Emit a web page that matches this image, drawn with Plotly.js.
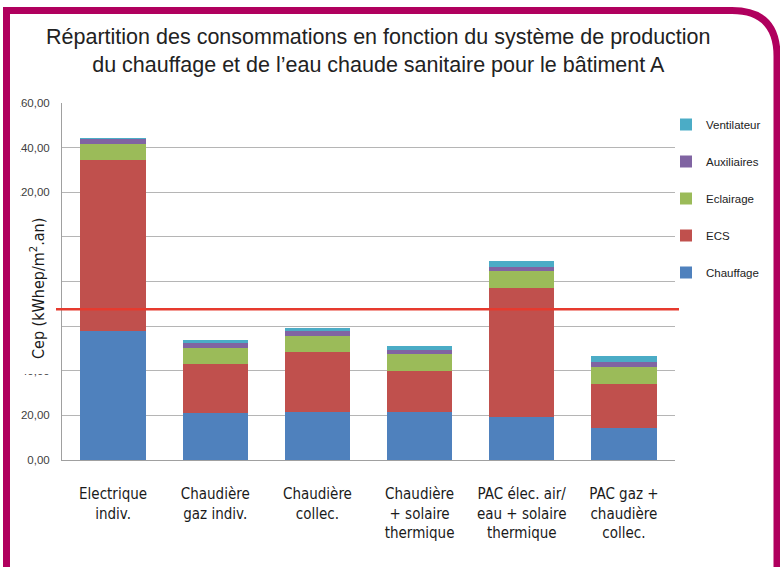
<!DOCTYPE html>
<html><head><meta charset="utf-8">
<script src="https://cdn.plot.ly/plotly-3.0.1.min.js"></script>
<style>html,body{margin:0;padding:0;background:#fff}#chart{width:780px;height:567px}</style>
</head><body><div id="chart"></div>
<script>
const categories = ["Electrique<br>indiv.", "Chaudière<br>gaz indiv.", "Chaudière<br>collec.", "Chaudière<br>+ solaire<br>thermique", "PAC élec. air/<br>eau + solaire<br>thermique", "PAC gaz +<br>chaudière<br>collec."];
const chauffage   = [58.0, 20.9, 21.4, 21.4, 19.1, 14.2];
const ecs         = [76.6, 22.0, 27.0, 18.7, 58.2, 20.0];
const eclairage   = [7.2, 7.5, 7.2, 7.3, 7.3, 7.5];
const auxiliaires = [2.2, 1.9, 2.1, 2.1, 2.1, 2.0];
const ventilateur = [0.2, 1.5, 1.4, 1.8, 2.6, 3.0];
const seuil = 67.6;
const yTickVals = [0, 20, 40, 60, 80, 100, 120, 140, 160];
const yTickText = ["0,00", "20,00", "40,00", "60,00", "80,00", "100,00", "120,00", "140,00", "160,00"];
const seriesNames = ["Chauffage", "ECS", "Eclairage", "Auxiliaires", "Ventilateur"];
const seriesColors = ["#4F81BD", "#C0504D", "#9BBB59", "#8064A2", "#4BACC6"];
const seriesValues = [chauffage, ecs, eclairage, auxiliaires, ventilateur];

const W = 780, H = 567, L = 62, R = 675, T = 103, B = 460;
const px = x => (x - L) / (R - L);
const py = y => (B - y) / (B - T);

const traces = seriesNames.map((n, i) => ({
  type: 'bar', name: n, x: categories, y: seriesValues[i],
  marker: {color: seriesColors[i], line: {width: 0}},
  legendgroup: n, legendrank: seriesNames.length - i, hoverinfo: 'y+name'
}));

const mag = '#b0005e';
const framePath = `M ${px(6.5)},${py(575)} L ${px(6.5)},${py(10.5)} L ${px(732)},${py(10.5)} Q ${px(777)},${py(10.5)} ${px(777)},${py(56)} L ${px(777)},${py(575)}`;
const narrow = "'Liberation Sans Narrow', 'Arial Narrow', 'DejaVu Sans Condensed', sans-serif";

const layout = {
  width: W, height: H,
  margin: {l: L, r: W - R, t: T, b: H - B, pad: 0},
  paper_bgcolor: '#fff', plot_bgcolor: '#fff',
  barmode: 'stack', bargap: 0.36,
  title: {
    text: "Répartition des consommations en fonction du système de production<br>du chauffage et de l’eau chaude sanitaire pour le bâtiment A",
    font: {family: "'Liberation Sans', Arial, sans-serif", size: 21.5, color: '#222'},
    x: 0.485, xref: 'container', xanchor: 'center',
    y: 1 - 44 / H, yref: 'container', yanchor: 'top'
  },
  xaxis: {
    showline: true, linecolor: '#a0a0a0', linewidth: 1,
    ticks: '', ticklabelstandoff: 20,
    tickfont: {family: narrow, size: 15, color: '#1a1a1a'},
    fixedrange: true
  },
  yaxis: {
    range: [0, 160], tickvals: yTickVals, ticktext: yTickText,
    showgrid: true, gridcolor: '#b5b5b5', gridwidth: 1,
    showline: true, linecolor: '#a0a0a0', linewidth: 1, zeroline: false,
    ticks: '', ticklabelstandoff: 9,
    tickfont: {family: "'Liberation Sans', Arial, sans-serif", size: 11.5, color: '#404040'},
    fixedrange: true
  },
  legend: {
    x: px(666), xanchor: 'left', y: py(110), yanchor: 'top',
    traceorder: 'grouped', tracegroupgap: 18,
    font: {family: "'Liberation Sans', Arial, sans-serif", size: 11.5, color: '#222'},
    bgcolor: 'rgba(0,0,0,0)', itemwidth: 30
  },
  shapes: [
    {type: 'line', xref: 'paper', yref: 'y', x0: px(56), x1: px(679), y0: seuil, y1: seuil,
     line: {color: '#e63a2e', width: 2.5}, layer: 'above'},
    {type: 'rect', xref: 'paper', yref: 'paper', x0: px(14), x1: px(56), y0: py(374), y1: py(200),
     fillcolor: '#fff', line: {width: 0}, layer: 'above'},
    {type: 'rect', xref: 'paper', yref: 'paper', x0: px(8), x1: px(20), y0: py(480), y1: py(90),
     fillcolor: '#fff', line: {width: 0}, layer: 'above'},
    {type: 'path', xref: 'paper', yref: 'paper', path: framePath,
     line: {color: mag, width: 7}, layer: 'above'}
  ],
  annotations: [
    {text: "Cep (kWhep/m<sup>2</sup>.an)", textangle: -90, xref: 'paper', yref: 'paper',
     x: px(37), y: py(289), xanchor: 'center', yanchor: 'middle', showarrow: false,
     font: {family: narrow, size: 16, color: '#1a1a1a'}}
  ]
};

Plotly.newPlot('chart', traces, layout, {displayModeBar: false, staticPlot: true});
</script></body></html>
